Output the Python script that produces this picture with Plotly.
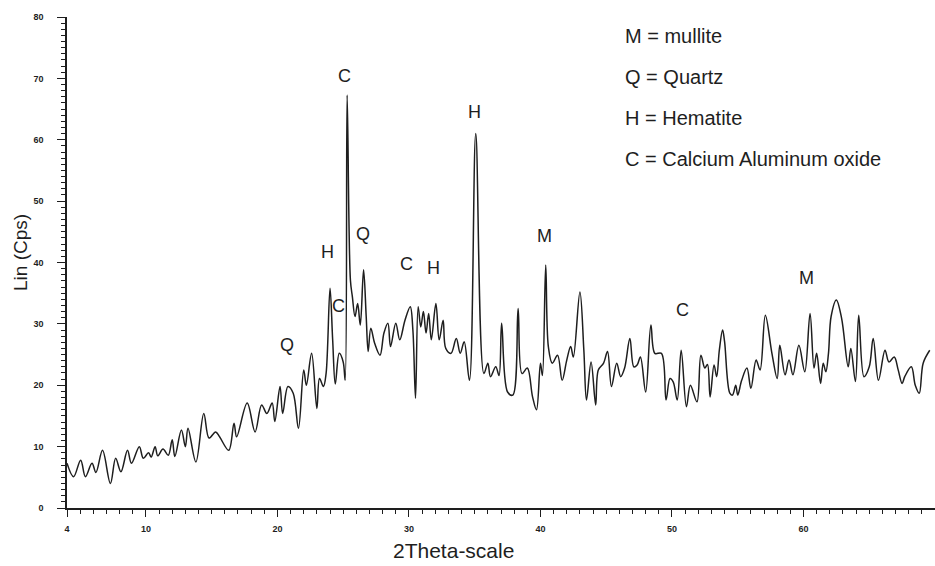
import plotly.graph_objects as go

two_theta = [4.0, 4.5, 5.04, 5.4, 5.9, 6.2, 6.7, 7.3, 7.7, 8.1, 8.6, 8.9, 9.5, 9.8, 10.2, 10.4,
             10.7, 10.9, 11.3, 11.7, 12.0, 12.2, 12.7, 13.0, 13.2, 13.8, 14.4, 14.8, 15.3, 15.6,
             16.3, 16.7, 16.9, 17.7, 18.3, 18.8, 19.2, 19.6, 19.8, 20.2, 20.4, 20.8, 21.2, 21.6,
             22.0, 22.2, 22.6, 23.0, 23.2, 23.5, 23.7, 24.0, 24.2, 24.4, 24.7, 25.0, 25.15, 25.3,
             25.55, 25.7, 25.9, 26.1, 26.3, 26.55, 26.75, 26.9, 27.1, 27.4, 27.8, 28.1, 28.4, 28.6,
             29.0, 29.3, 29.7, 30.1, 30.3, 30.5, 30.7, 30.9, 31.1, 31.3, 31.5, 31.7, 32.05, 32.3,
             32.6, 32.8, 33.2, 33.6, 33.9, 34.2, 34.6, 35.08, 35.7, 36.0, 36.2, 36.6, 36.85, 37.05,
             37.5, 37.9, 38.3, 38.6, 39.0, 39.4, 39.7, 40.0, 40.15, 40.4, 40.6, 40.9, 41.3, 41.65,
             42.0, 42.3, 42.5, 43.0, 43.3, 43.5, 43.85, 44.2, 44.4, 44.8, 45.1, 45.4, 45.8, 46.1,
             46.4, 46.8, 47.1, 47.35, 47.6, 48.0, 48.4, 48.7, 49.2, 49.55, 49.85, 50.1, 50.4, 50.7,
             51.1, 51.4, 51.9, 52.2, 52.5, 52.7, 52.9, 53.2, 53.4, 53.6, 53.85, 54.0, 54.4, 54.6,
             54.85, 55.0, 55.3, 55.7, 56.0, 56.4, 56.7, 57.1, 57.6, 58.0, 58.2, 58.6, 58.9, 59.2,
             59.65, 60.1, 60.5, 60.8, 61.0, 61.3, 61.5, 61.7, 61.9, 62.1, 62.5, 62.9, 63.4, 63.6,
             63.95, 64.2, 64.6, 65.0, 65.3, 65.7, 66.2, 66.5, 66.9, 67.2, 67.5, 67.7, 68.2, 68.5,
             68.8, 69.1, 69.6]

counts = [7.3, 5.1, 7.8, 5.1, 7.3, 5.8, 9.4, 4.0, 8.1, 5.9, 9.4, 7.3, 10.0, 8.1, 9.0, 8.3,
          10.0, 8.5, 9.6, 8.6, 11.1, 8.4, 12.7, 10.0, 13.0, 7.5, 15.4, 11.4, 12.4, 11.6,
          9.4, 13.8, 11.6, 17.1, 12.4, 16.8, 15.4, 17.1, 14.1, 19.8, 15.4, 19.8, 18.7, 13.0,
          22.5, 20.0, 25.2, 16.2, 21.1, 19.8, 21.9, 35.8, 27.4, 20.2, 25.2, 23.8, 20.8, 67.3,
          37.1, 34.4, 31.2, 33.3, 29.8, 38.8, 31.2, 25.5, 29.3, 26.8, 24.9, 28.5, 30.1, 26.3,
          30.1, 27.4, 30.6, 32.8, 29.0, 17.9, 32.8, 29.5, 32.0, 28.5, 31.7, 27.4, 33.3, 27.4,
          30.6, 26.0, 25.2, 27.6, 25.2, 27.1, 20.8, 61.0, 21.9, 23.6, 21.4, 23.0, 21.6, 30.1,
          18.9, 18.4, 32.5, 21.9, 22.8, 18.1, 16.0, 23.6, 21.6, 39.6, 26.3, 23.6, 24.9, 20.8,
          24.1, 26.3, 24.6, 35.2, 25.7, 17.6, 23.8, 16.8, 22.5, 23.6, 25.5, 19.8, 23.6, 21.4,
          22.8, 27.6, 23.0, 23.3, 24.6, 18.9, 29.8, 25.2, 25.2, 17.6, 21.1, 20.5, 17.6, 25.7,
          16.5, 20.0, 17.3, 24.9, 22.8, 23.4, 18.1, 23.3, 21.4, 25.7, 29.0, 27.1, 18.7, 18.4,
          20.0, 18.4, 20.8, 22.8, 19.5, 24.1, 22.5, 31.4, 25.2, 21.1, 26.5, 21.7, 24.1, 21.7,
          26.5, 22.2, 31.7, 22.8, 25.2, 20.3, 23.6, 22.2, 25.2, 31.2, 33.9, 30.9, 23.0, 26.0,
          20.6, 31.4, 21.4, 23.0, 27.6, 20.8, 25.7, 23.8, 24.6, 22.5, 20.3, 21.4, 23.0, 20.0,
          18.7, 23.6, 25.7]

peak_labels = ["C", "H", "C", "Q", "Q", "C", "H", "H", "M", "C", "M"]
peak_x = [25.1, 23.8, 24.65, 26.5, 20.7, 29.8, 31.9, 34.95, 40.3, 50.8, 60.2]
peak_y = [70.4, 41.7, 32.9, 44.6, 26.5, 39.7, 39.1, 64.6, 44.3, 32.2, 37.5]

legend_lines = ["M = mullite", "Q = Quartz", "H = Hematite", "C = Calcium Aluminum oxide"]

x_ticks = [4, 10, 20, 30, 40, 50, 60, 70]
y_ticks = [0, 10, 20, 30, 40, 50, 60, 70, 80]

FONT = "Liberation Sans, Arial, sans-serif"
INK = "#1e1e1e"

fig = go.Figure()
fig.add_trace(go.Scatter(
    x=two_theta, y=counts, mode="lines",
    line=dict(color=INK, width=1.5, shape="spline", smoothing=1.0),
    showlegend=False, hoverinfo="skip"))

for t, xv, yv in zip(peak_labels, peak_x, peak_y):
    fig.add_annotation(x=xv, y=yv, text=t, showarrow=False,
                       font=dict(family=FONT, size=18, color=INK))

for i, t in enumerate(legend_lines):
    fig.add_annotation(xref="paper", yref="paper", x=(623 - 67) / 868,
                       y=1 - (19 + 41 * i) / 491,
                       xanchor="left", yanchor="middle", text=t, showarrow=False,
                       font=dict(family=FONT, size=20, color=INK))

fig.add_annotation(xref="paper", yref="paper", x=0, y=(508 - 253) / 491, xshift=-46,
                   xanchor="center", yanchor="middle",
                   text="Lin (Cps)", textangle=-90, showarrow=False,
                   font=dict(family=FONT, size=19, color=INK))
fig.add_annotation(xref="paper", yref="paper", x=(453 - 67) / 868, y=0, yshift=-42,
                   xanchor="center", yanchor="middle",
                   text="2Theta-scale", showarrow=False,
                   font=dict(family=FONT, size=21, color=INK))

fig.update_layout(
    width=935, height=566,
    margin=dict(l=67, r=0, t=17, b=58),
    paper_bgcolor="white", plot_bgcolor="white",
    xaxis=dict(range=[4, 70], tickmode="array", tickvals=x_ticks,
               ticktext=[str(v) for v in x_ticks],
               showgrid=False, zeroline=False, showline=True, linecolor=INK,
               linewidth=1.5, ticks="outside", ticklen=7, tickwidth=1.2, tickcolor=INK,
               ticklabelstandoff=4,
               tickfont=dict(family=FONT, size=9, color=INK, weight="bold"),
               minor=dict(tickmode="linear", tick0=0, dtick=1, ticks="outside", ticklen=4,
                          tickcolor=INK, tickwidth=1)),
    yaxis=dict(range=[0, 80], tickmode="array", tickvals=y_ticks,
               showgrid=False, zeroline=False, showline=True, linecolor=INK,
               linewidth=1.5, ticks="outside", ticklen=8, tickwidth=1.2, tickcolor=INK,
               ticklabelstandoff=12,
               tickfont=dict(family=FONT, size=9, color=INK, weight="bold"),
               minor=dict(tickmode="linear", tick0=0, dtick=1, ticks="outside", ticklen=4,
                          tickcolor=INK, tickwidth=1)),
)

fig.write_html("out.html")
